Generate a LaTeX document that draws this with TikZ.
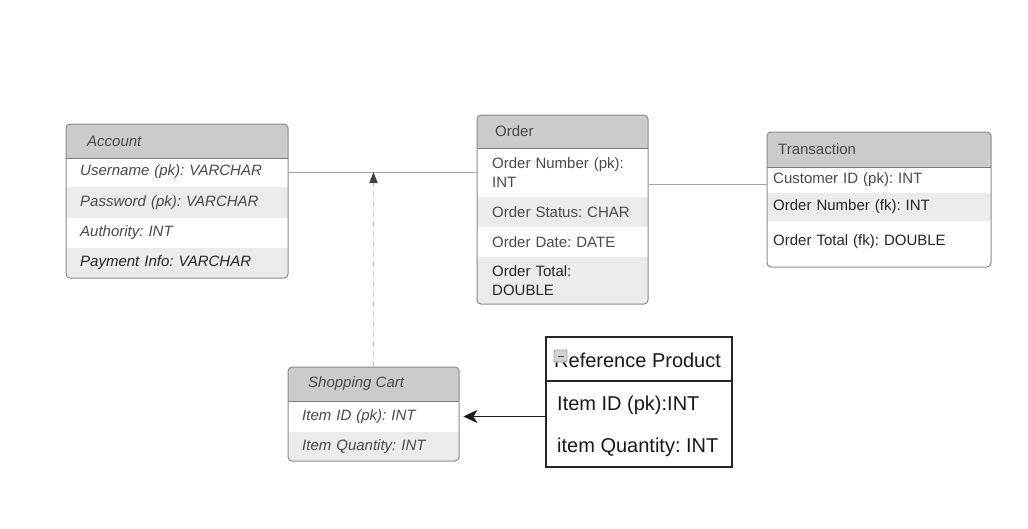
\documentclass[tikz,border=0pt]{standalone}
\usepackage{fontspec}
\setmainfont{Liberation Sans}
\usetikzlibrary{arrows.meta,fit}
\definecolor{hdrc}{HTML}{CBCBCB}
\definecolor{rowc}{HTML}{EBEBEB}
\definecolor{bordc}{HTML}{8C8C8C}
\definecolor{sepc}{HTML}{7A7A7A}
\definecolor{txtc}{HTML}{4A4A4A}
\definecolor{txtd}{HTML}{262626}
\definecolor{connc}{HTML}{A6A6A6}
\definecolor{dashc}{HTML}{C8C8C8}
\frenchspacing
\begin{document}
\begin{tikzpicture}[x=1pt,y=-1pt,
  fs/.style={font=\fontsize{15}{19}\selectfont},
  fsi/.style={font=\fontsize{15}{19}\selectfont\itshape},
  fsb/.style={font=\fontsize{20}{24}\selectfont},
  tblbox/.style={draw=bordc, line width=1pt, rounded corners=4pt, inner sep=0pt},
  refbox/.style={draw=black!85, line width=1.5pt, inner sep=0pt},
  hdrtext/.style={anchor=west, inner sep=0pt, fs, text=txtc},
  cell/.style n args={2}{anchor=west, inner xsep=#1, inner ysep=0pt, text width=#2, align=left, fs, text=txtc},
  reftext/.style={anchor=west, inner sep=0pt, fsb, text=black!90},
  conn/.style={draw=connc, line width=1pt},
  sepline/.style={draw=sepc, line width=1pt}
]
\useasboundingbox (0,0) rectangle (1028,528);
\fill[white] (0,0) rectangle (1028,528);

% ---------- Account ----------
\begin{scope}
  \clip[rounded corners=4pt] (66,124) rectangle (288,278);
  \fill[hdrc] (66,124) rectangle (288,158);
  \fill[rowc] (66,187) rectangle (288,218);
  \fill[rowc] (66,248) rectangle (288,278);
\end{scope}
\draw[sepline] (66,158) -- (288,158);
\node[tblbox, fit={(66,124)(288,278)}] (account) {};
\node[hdrtext, fsi] (accH) at (87,141) {Account};
\node[cell={14pt}{194pt}, fsi] (accUser) at (66,172) {Username (pk): VARCHAR};
\node[cell={14pt}{194pt}, fsi] (accPass) at (66,202.5) {Password (pk): VARCHAR};
\node[cell={14pt}{194pt}, fsi] (accAuth) at (66,233) {Authority: INT};
\node[cell={14pt}{194pt}, fsi, text=txtd] (accPay) at (66,263) {Payment Info: VARCHAR};

% ---------- Order ----------
\begin{scope}
  \clip[rounded corners=4pt] (477,115) rectangle (648,304);
  \fill[hdrc] (477,115) rectangle (648,148);
  \fill[rowc] (477,197) rectangle (648,227);
  \fill[rowc] (477,257) rectangle (648,304);
\end{scope}
\draw[sepline] (477,148) -- (648,148);
\node[tblbox, fit={(477,115)(648,304)}] (order) {};
\node[hdrtext] (ordH) at (495,131.5) {Order};
\node[cell={15pt}{141pt}] (ordNum) at (477,172.5) {Order Number (pk):\\INT};
\node[cell={15pt}{141pt}] (ordStat) at (477,212) {Order Status: CHAR};
\node[cell={15pt}{141pt}] (ordDate) at (477,242) {Order Date: DATE};
\node[cell={15pt}{141pt}, text=txtd] (ordTot) at (477,280.5) {Order Total:\\DOUBLE};

% ---------- Transaction ----------
\begin{scope}
  \clip[rounded corners=4pt] (767,132) rectangle (991,267);
  \fill[hdrc] (767,132) rectangle (991,167);
  \fill[rowc] (767,193) rectangle (991,221);
\end{scope}
\draw[sepline] (767,167) -- (991,167);
\node[tblbox, fit={(767,132)(991,267)}] (trans) {};
\node[hdrtext] (trH) at (778,149.5) {Transaction};
\node[cell={6pt}{212pt}] (trCust) at (767,180) {Customer ID (pk): INT};
\node[cell={6pt}{212pt}, text=txtd] (trNum) at (767,207) {Order Number (fk): INT};
\node[cell={6pt}{212pt}, text=txtd] (trTot) at (767,242) {Order Total (fk): DOUBLE};

% ---------- Shopping Cart ----------
\begin{scope}
  \clip[rounded corners=4pt] (288,367) rectangle (459,461);
  \fill[hdrc] (288,367) rectangle (459,401);
  \fill[rowc] (288,432) rectangle (459,461);
\end{scope}
\draw[sepline] (288,401) -- (459,401);
\node[tblbox, fit={(288,367)(459,461)}] (cart) {};
\node[hdrtext, fsi] (cartH) at (308,384) {Shopping Cart};
\node[cell={14pt}{143pt}, fsi] (cartItem) at (288,416.5) {Item ID (pk): INT};
\node[cell={14pt}{143pt}, fsi] (cartQty) at (288,446.5) {Item Quantity: INT};

% ---------- Reference Product ----------
\node[refbox, fit={(546,337)(732,467)}] (ref) {};
\draw[black!85, line width=1.2pt] (546,381) -- (732,381);
\node[reftext] (refH) at (554,360) {Reference Product};
\node[reftext] (refItem) at (557,405) {Item ID (pk):INT};
\node[reftext] (refQty) at (557,447) {item Quantity: INT};
\draw[fill=gray!35, draw=gray!75, rounded corners=1pt, line width=0.8pt] (554,350) rectangle (567,362);
\draw[black!70, line width=1pt] (557.5,356) -- (563.5,356);

% ---------- Connectors ----------
\draw[conn] (accUser.east) -- (accUser.east -| order.west);
\coordinate (j2) at ([yshift=-4pt]trCust.west);
\draw[conn] (order.east |- j2) -- (j2);
\draw[draw=dashc, line width=1.6pt, dash pattern=on 6pt off 4pt,
      -{Triangle[length=11pt,width=8pt,color=black!75]}]
  (cart.north) -- (cart.north |- accUser.east);
\draw[black!90, line width=1.5pt, shorten >=4pt,
      -{Stealth[length=14pt,width=13pt,inset=4pt]}]
  (ref.west |- cartItem.east) -- (cartItem.east);
\end{tikzpicture}
\end{document}
